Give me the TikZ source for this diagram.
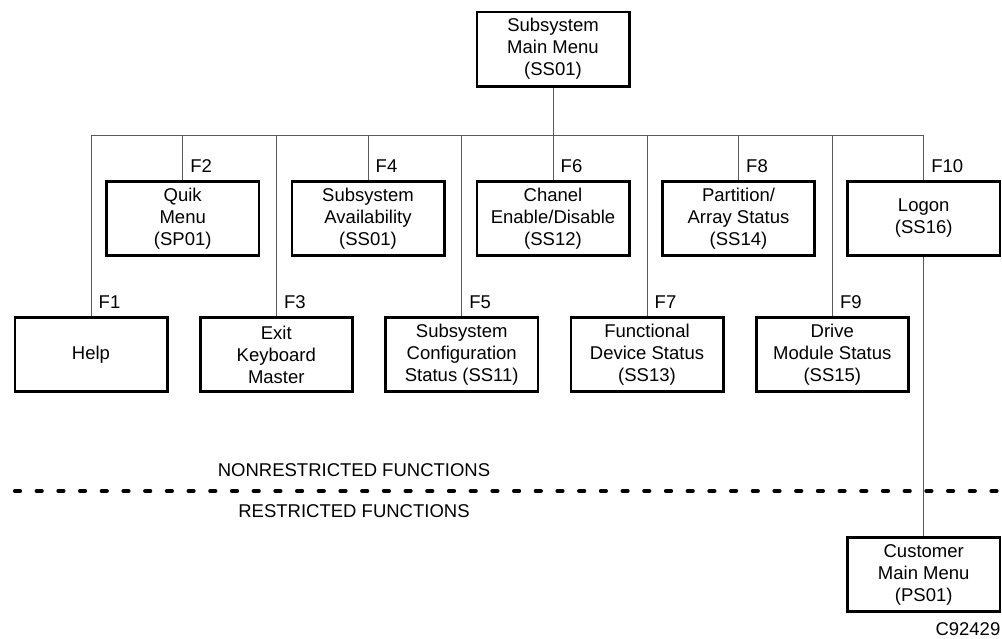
\documentclass[tikz,border=0pt]{standalone}
\usepackage{fontspec}
\setmainfont{Liberation Sans}
\begin{document}
\begin{tikzpicture}[x=1pt,y=-1pt,
  txt/.style={font=\fontsize{18.5}{22}\selectfont},
  box/.style={txt,draw,line width=2.7pt,minimum width=152.3pt,minimum height=74.3pt,align=center,inner sep=0pt},
  conn/.style={line width=1pt,black!65},
  flabel/.style={txt,anchor=base west,inner sep=0pt},
  divider/.style={line width=4.2pt,line cap=round,dash pattern=on 5pt off 16.7pt}]
\useasboundingbox (0,0) rectangle (1002,638);
% main
\node[box] (main) at (553,49) {Subsystem\\Main Menu\\(SS01)};
% upper row
\node[box] (quik)  at (182.7,218.5) {Quik\\Menu\\(SP01)};
\node[box] (avail) at (368,218.5) {Subsystem\\Availability\\(SS01)};
\node[box] (chan)  at (553,218.5) {Chanel\\Enable/Disable\\(SS12)};
\node[box] (part)  at (738.5,218.5) {Partition/\\Array Status\\(SS14)};
\node[box] (logon) at (923.7,218.5) {Logon\\(SS16)};
% lower row
\node[box] (help)  at (91,354.5) {Help};
\node[box] (exit)  at (276.3,354.5) {Exit\\Keyboard\\Master};
\node[box] (conf)  at (461.7,354.5) {Subsystem\\Configuration\\Status (SS11)};
\node[box] (func)  at (647,354.5) {Functional\\Device Status\\(SS13)};
\node[box] (drive) at (832.3,354.5) {Drive\\Module Status\\(SS15)};
% customer
\node[box] (cust)  at (923.7,574.5) {Customer\\Main Menu\\(PS01)};
% bus
\coordinate (busL) at (91,135);
\coordinate (busR) at (923.7,135);
\draw[conn] (busL) -- (busR);
\draw[conn] (main.south) -- (main.south |- busL);
\foreach \n in {quik,avail,chan,part,logon,help,exit,conf,func,drive}{
  \draw[conn] (\n.north |- busL) -- (\n.north);
}
\draw[conn] (logon.south) -- (cust.north);
% F labels
\node[flabel] (f2)  at ([xshift=7.5pt,yshift=7.3pt]quik.north)  {F2};
\node[flabel] (f4)  at ([xshift=7.5pt,yshift=7.3pt]avail.north) {F4};
\node[flabel] (f6)  at ([xshift=7.5pt,yshift=7.3pt]chan.north)  {F6};
\node[flabel] (f8)  at ([xshift=7.5pt,yshift=7.3pt]part.north)  {F8};
\node[flabel] (f10) at ([xshift=7.5pt,yshift=7.3pt]logon.north) {F10};
\node[flabel] (f1)  at ([xshift=7.5pt,yshift=7.3pt]help.north)  {F1};
\node[flabel] (f3)  at ([xshift=7.5pt,yshift=7.3pt]exit.north)  {F3};
\node[flabel] (f5)  at ([xshift=7.5pt,yshift=7.3pt]conf.north)  {F5};
\node[flabel] (f7)  at ([xshift=7.5pt,yshift=7.3pt]func.north)  {F7};
\node[flabel] (f9)  at ([xshift=7.5pt,yshift=7.3pt]drive.north) {F9};
% divider
\coordinate (dl) at (15,491);
\coordinate (dr) at (1012,491);
\draw[divider] (dl) -- (dr);
\node[txt,anchor=base,inner sep=0pt] (nonr) at (354,476.7) {NONRESTRICTED FUNCTIONS};
\node[txt,anchor=base,inner sep=0pt] (restr) at (354,517.7) {RESTRICTED FUNCTIONS};
% figure id
\node[txt,anchor=base east,inner sep=0pt] (fig) at (1000.5,635) {C92429};
\end{tikzpicture}
\end{document}
